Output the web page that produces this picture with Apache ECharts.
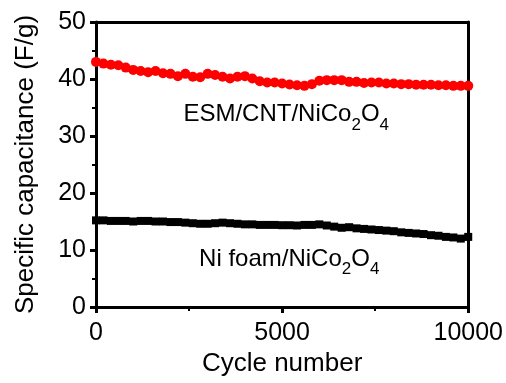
<!DOCTYPE html>
<html>
<head>
<meta charset="utf-8">
<script src="https://cdn.jsdelivr.net/npm/echarts@6/dist/echarts.min.js"></script>
<style>
  html, body { margin: 0; padding: 0; background: #fff; }
  #chart { width: 506px; height: 383px; }
</style>
</head>
<body>
<div id="chart"></div>
<script>
// cycles every 200, 0..10000
var cycles = [];
for (var c = 0; c <= 10000; c += 200) cycles.push(c);

// ESM/CNT/NiCo2O4 (red circles)
var esmCap = [
  43.0, 42.7, 42.5, 42.4, 42.0, 41.6, 41.4, 41.2, 41.4, 41.0,
  40.9, 40.5, 40.9, 40.4, 40.3, 40.9, 40.7, 40.4, 40.1, 40.4,
  40.5, 40.1, 39.6, 39.4, 39.4, 39.2, 39.05, 38.9, 38.8, 39.1,
  39.7, 39.8, 39.8, 39.8, 39.5, 39.5, 39.3, 39.4, 39.4, 39.2,
  39.2, 39.1, 39.1, 39.0, 39.0, 39.0, 38.9, 38.9, 38.8, 38.8,
  38.8
];

// Ni foam/NiCo2O4 (black squares)
var niCap = [
  15.2, 15.2, 15.1, 15.1, 15.1, 15.0, 15.1, 15.1, 15.0, 15.0,
  14.9, 14.9, 14.8, 14.7, 14.6, 14.6, 14.7, 14.8, 14.7, 14.6,
  14.5, 14.5, 14.4, 14.4, 14.4, 14.35, 14.35, 14.3, 14.4, 14.4,
  14.5, 14.3, 14.1, 13.9, 14.0, 13.8, 13.7, 13.6, 13.5, 13.4,
  13.3, 13.1, 13.0, 12.9, 12.8, 12.6, 12.5, 12.3, 12.2, 12.0,
  12.3
];

var xTicks = [0, 10000, 5000];   // min, max, interval
var yTicks = [0, 50, 10];

var font = 'Liberation Sans, Arial, sans-serif';

function pairs(xs, ys) {
  return xs.map(function (x, i) { return [x, ys[i]]; });
}

var chart = echarts.init(document.getElementById('chart'));

var boxAxis = {
  type: 'value',
  axisLine: { show: true, onZero: false, lineStyle: { color: '#000', width: 3 } },
  axisTick: { show: false },
  axisLabel: { show: false },
  splitLine: { show: false }
};

var option = {
  animation: false,
  backgroundColor: '#fff',
  grid: { left: 96, right: 30, top: 22, bottom: 76 },
  xAxis: [
    {
      type: 'value',
      position: 'bottom',
      min: xTicks[0], max: xTicks[1], interval: xTicks[2],
      name: 'Cycle number',
      nameLocation: 'middle',
      nameGap: 42,
      nameTextStyle: { fontSize: 26, color: '#000', fontFamily: font },
      axisLine: { onZero: false, lineStyle: { color: '#000', width: 3 } },
      axisTick: { inside: false, length: 6, lineStyle: { color: '#000', width: 3 } },
      minorTick: { show: true, splitNumber: 2, length: 4, lineStyle: { color: '#000', width: 2 } },
      axisLabel: {
        fontSize: 25, color: '#000', fontFamily: font, margin: 14,
        formatter: function (v) { return String(v); }
      },
      splitLine: { show: false }
    },
    Object.assign({ position: 'top', min: xTicks[0], max: xTicks[1] }, boxAxis)
  ],
  yAxis: [
    {
      type: 'value',
      position: 'left',
      min: yTicks[0], max: yTicks[1], interval: yTicks[2],
      name: 'Specific capacitance (F/g)',
      nameLocation: 'middle',
      nameGap: 57,
      nameTextStyle: { fontSize: 26, color: '#000', fontFamily: font },
      axisLine: { onZero: false, lineStyle: { color: '#000', width: 3 } },
      axisTick: { inside: false, length: 6, lineStyle: { color: '#000', width: 3 } },
      minorTick: { show: true, splitNumber: 2, length: 4, lineStyle: { color: '#000', width: 2 } },
      axisLabel: { fontSize: 25, color: '#000', fontFamily: font, margin: 10 },
      splitLine: { show: false }
    },
    Object.assign({ position: 'right', min: yTicks[0], max: yTicks[1] }, boxAxis)
  ],
  series: [
    {
      name: 'ESM/CNT/NiCo2O4',
      type: 'line',
      data: pairs(cycles, esmCap),
      symbol: 'circle',
      symbolSize: 10,
      showAllSymbol: true,
      itemStyle: { color: '#ff0000' },
      lineStyle: { color: '#ff0000', width: 5 },
      z: 3
    },
    {
      name: 'Ni foam/NiCo2O4',
      type: 'line',
      data: pairs(cycles, niCap),
      symbol: 'rect',
      symbolSize: 8,
      showAllSymbol: true,
      itemStyle: { color: '#000' },
      lineStyle: { color: '#000', width: 6 },
      z: 3
    }
  ]
};

chart.setOption(option);

// series labels with subscripts, anchored in data coordinates
function label(text, at) {
  var p = chart.convertToPixel({ gridIndex: 0 }, at);
  return {
    type: 'text',
    x: p[0], y: p[1],
    z: 10,
    style: {
      text: text,
      fontSize: 24,
      lineHeight: 38,
      fontFamily: font,
      fill: '#000',
      align: 'center',
      verticalAlign: 'middle',
      rich: {
        s: { fontSize: 17, lineHeight: 17, verticalAlign: 'bottom', fontFamily: font, fill: '#000' }
      }
    }
  };
}

chart.setOption({
  graphic: [
    label('ESM/CNT/NiCo{s|2}O{s|4}', [5110, 33.8]),
    label('Ni foam/NiCo{s|2}O{s|4}', [5190, 8.4])
  ]
});

window.addEventListener('resize', function () { chart.resize(); });
</script>
</body>
</html>
